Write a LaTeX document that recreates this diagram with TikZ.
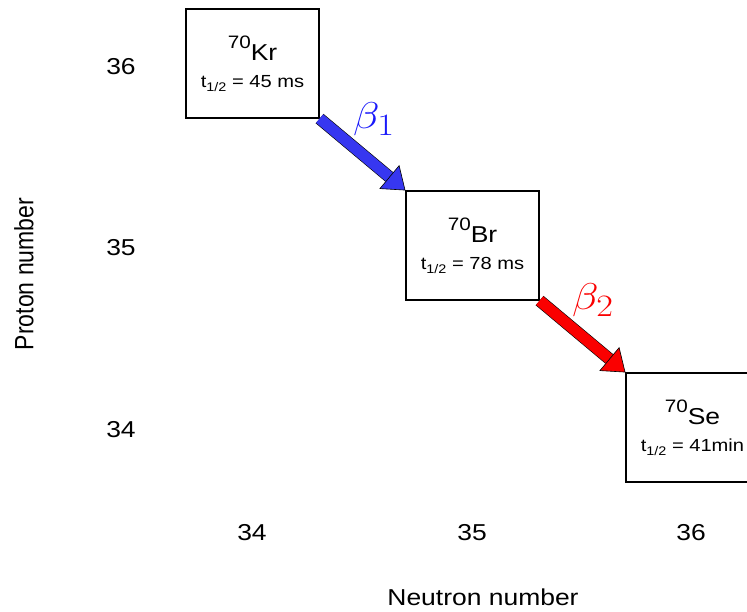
\documentclass[tikz,border=0pt]{standalone}
\usepackage{fontspec}
\setmainfont{Liberation Sans}
\usepackage{graphicx}
\usetikzlibrary{positioning,arrows.meta}
\definecolor{decayblue}{RGB}{55,55,240}
\definecolor{labelblue}{RGB}{25,25,250}
\definecolor{decayred}{RGB}{250,0,0}
% the reference text is stretched sideways
\newcommand{\wide}[1]{\scalebox{1.15}[1]{#1}}
\newcommand{\nuclide}[3]{%
  \wide{\raisebox{12pt}{\fontsize{18}{18}\selectfont #1}\fontsize{23}{23}\selectfont #2}\\
  \wide{\fontsize{17.5}{20}\selectfont t\raisebox{-4pt}{\fontsize{12.5}{12.5}\selectfont 1/2} = #3}}
\newcommand{\decaylabel}[1]{\scalebox{1.75}[1.5]{\Huge$\beta_{#1}$}}

\begin{document}
\begin{tikzpicture}[x=1pt,y=-1pt,
    nucbox/.style={draw,line width=1.2pt,minimum width=133pt,minimum height=109pt,
                   inner sep=0pt,align=center,font=\fontsize{17.5}{27}\selectfont},
    ticklabel/.style={font=\fontsize{23}{23}\selectfont},
    decay/.style={draw=black,line width=0.6pt,double=#1,double distance=11pt,
                  -{Triangle[width=31pt,length=21pt,fill=#1]}}]
    \useasboundingbox (0,0) rectangle (747,612);
    \clip (0,0) rectangle (747,612);
    % nuclides
    \node[nucbox] (kr) at (252.5,63.5) {\nuclide{70}{Kr}{45 ms}};
    \node[nucbox] (br) at (472.5,245.5) {\nuclide{70}{Br}{78 ms}};
    \node[nucbox] (se) at (692.5,427.5) {\nuclide{70}{Se}{41min}};
    % axis numbers
    \foreach \z/\y in {36/67,35/248,34/430}{
        \node[ticklabel] (z\z) at (121,\y) {\wide{\z}};
    }
    \foreach \n/\x in {34/252,35/472,36/691}{
        \node[ticklabel] (n\n) at (\x,533) {\wide{\n}};
    }
    \node[ticklabel] (xtitle) at (483,597) {\wide{Neutron number}};
    \node[ticklabel,rotate=90] (ytitle) at (24,274) {\scalebox{1}[1.15]{Proton number}};
    % beta decays
    \draw[decay=decayblue] (kr.south east) -- (br.north west);
    \node[labelblue] (beta1) at (374,119) {\decaylabel{1}};
    \draw[decay=decayred] (br.south east) -- (se.north west);
    \node[decayred] (beta2) at (593,300) {\decaylabel{2}};
\end{tikzpicture}
\end{document}
